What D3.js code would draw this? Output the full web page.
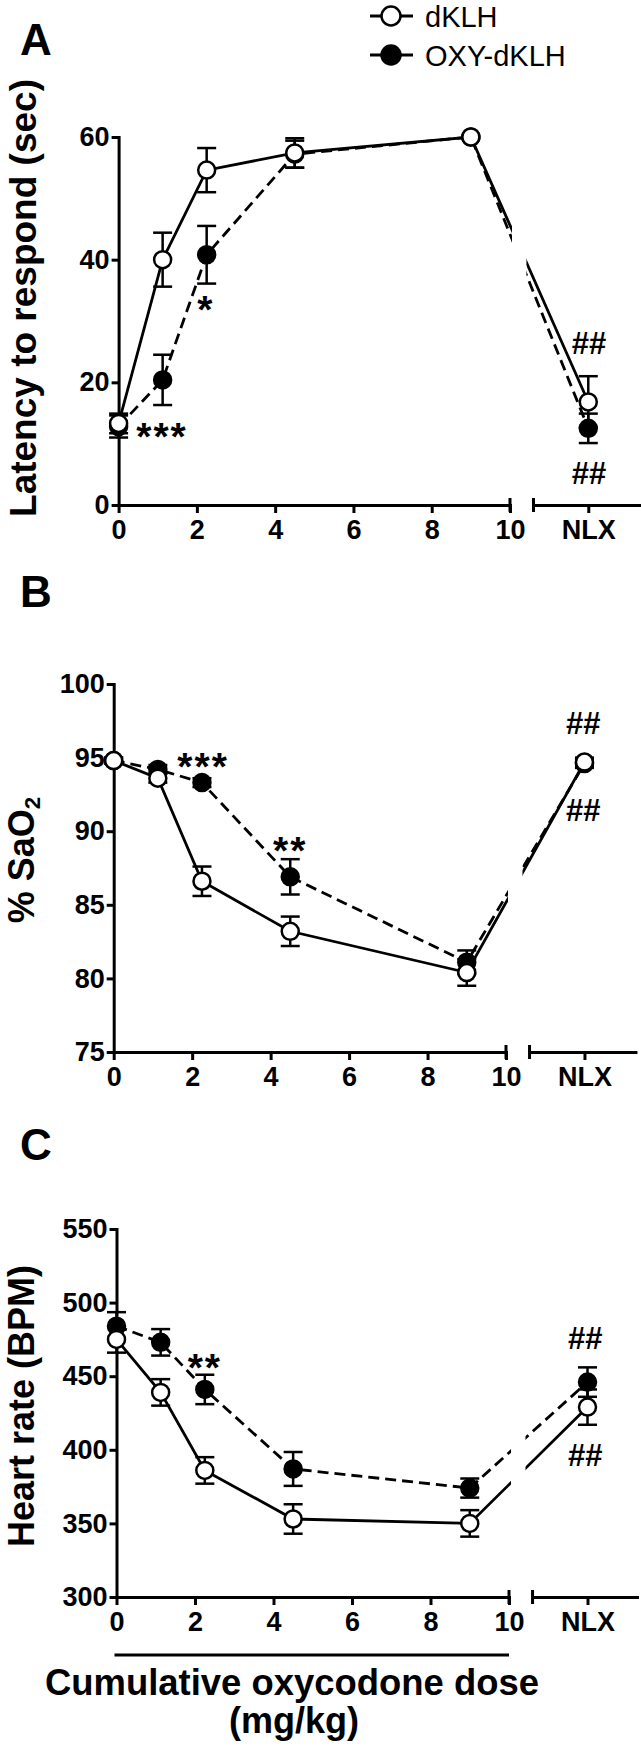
<!DOCTYPE html>
<html><head><meta charset="utf-8">
<script src="https://cdn.jsdelivr.net/npm/d3@7"></script>
<style>
body{margin:0;background:#fff}
svg{display:block}
text{font-family:"Liberation Sans",Arial,Helvetica,sans-serif;fill:#000}
</style>
</head><body><svg id="chart" width="641" height="1748"></svg>
<script>
// ---------- data ----------
const doses = [0, 1.125, 2.25, 4.5, 9];
const nlxPos = 12;                 // NLX category position on the dose axis
const nlxLabel = "NLX";
const xTickValues = [0, 2, 4, 6, 8, 10];
const seriesNames = ["dKLH", "OXY-dKLH"];

const latencyTicks = [0, 20, 40, 60];
const latencyDKLH    = [13.3, 40.0, 54.6, 57.4, 60.0, 16.8];
const latencyDKLHErr = [1.6, 4.4, 3.6, 2.4, 0.0, 4.2];
const latencyOXY     = [12.8, 20.4, 40.8, 57.2, 60.0, 12.5];
const latencyOXYErr  = [1.8, 4.1, 4.7, 2.2, 0.3, 2.4];

const sao2Ticks = [75, 80, 85, 90, 95, 100];
const sao2DKLH    = [94.8, 93.6, 86.6, 83.2, 80.4, 94.7];
const sao2DKLHErr = [0.2, 0.3, 1.0, 1.0, 0.9, 0.3];
const sao2OXY     = [94.8, 94.2, 93.3, 86.9, 81.1, 94.6];
const sao2OXYErr  = [0.2, 0.3, 0.3, 1.2, 0.8, 0.3];

const hrTicks = [300, 350, 400, 450, 500, 550];
const hrDKLH    = [475, 439, 386, 353, 350, 429];
const hrDKLHErr = [9, 9, 9, 10, 9, 12];
const hrOXY     = [484, 473, 441, 387, 374, 446];
const hrOXYErr  = [9.5, 9, 10, 11.5, 6.5, 10];

// significance marks: [text, dose position, value]
const annotLatency = [["***", 1.11, 12.7], ["*", 2.23, 33.4], ["##", 12.02, 26.4], ["##", 12.02, 5.2]];
const annotSao2    = [["***", 2.28, 95.04], ["**", 4.5, 89.33], ["##", 11.97, 97.35], ["##", 11.97, 91.44]];
const annotHr      = [["**", 2.25, 462.4], ["##", 11.94, 476], ["##", 11.94, 396.5]];

// ---------- drawing ----------
const svg = d3.select("#chart");
svg.append("rect").attr("width", 641).attr("height", 1748).attr("fill", "#fff");
const FONT = '"Liberation Sans",Arial,Helvetica,sans-serif';
const positions = doses.concat([nlxPos]);

function drawPanel(cfg, idx) {
  const x = d3.scaleLinear().domain([0, 10]).range([cfg.x0, cfg.x10]);
  const y = d3.scaleLinear().domain([cfg.ticks[0], cfg.ticks[cfg.ticks.length - 1]]).range([cfg.yBottom, cfg.yTop]);
  const g = svg.append("g");

  // panel letter
  g.append("text").attr("x", 20).attr("y", cfg.letterY).attr("font-size", 44).attr("font-weight", "bold").text(cfg.letter);

  // y label
  const yl = g.append("text")
    .attr("transform", `translate(${cfg.ylabX},${cfg.ylabY}) rotate(-90)`)
    .attr("text-anchor", "middle").attr("font-size", cfg.ylabSize).attr("font-weight", "bold");
  if (cfg.ylabLen) yl.attr("textLength", cfg.ylabLen).attr("lengthAdjust", "spacingAndGlyphs");
  cfg.ylab.forEach(p => {
    const t = yl.append("tspan").text(p.t);
    if (p.sub) t.attr("font-size", cfg.ylabSize * 0.62).attr("dy", 6);
  });

  // clip for lines (axis-break gap)
  const clipId = "clip" + idx;
  const cp = svg.append("clipPath").attr("id", clipId);
  cp.append("rect").attr("x", 0).attr("y", 0).attr("width", x(10) + 2).attr("height", 1748);
  cp.append("rect").attr("x", x(10.42)).attr("y", 0).attr("width", 641).attr("height", 1748);

  // axes
  const yAxis = d3.axisLeft(y).tickValues(cfg.ticks).tickSize(7).tickSizeOuter(0).tickPadding(2).tickFormat(d3.format("d"));
  const xAxis = d3.axisBottom(x).tickValues(xTickValues).tickSize(8).tickSizeOuter(0).tickPadding(7).tickFormat(d3.format("d"));
  const xr = x.copy().domain([10.6, cfg.xEnd]).range([x(10.6), x(cfg.xEnd)]);
  const xrAxis = d3.axisBottom(xr).tickValues([nlxPos]).tickSize(8).tickSizeOuter(0).tickPadding(7).tickFormat(() => nlxLabel);

  const styleAxis = sel => {
    sel.attr("font-family", FONT).attr("font-size", 27).attr("font-weight", "bold");
    sel.selectAll("path.domain").attr("stroke", "#000").attr("stroke-width", 3).attr("stroke-linecap", "square");
    sel.selectAll(".tick line").attr("stroke", "#000").attr("stroke-width", 3);
    sel.selectAll(".tick text").attr("fill", "#000");
  };
  g.append("g").attr("transform", `translate(${cfg.x0},0)`).call(yAxis).call(styleAxis);
  g.append("g").attr("transform", `translate(0,${cfg.yBottom})`).call(xAxis).call(styleAxis);
  g.append("g").attr("transform", `translate(0,${cfg.yBottom})`).call(xrAxis).call(styleAxis);
  // break caps
  [10, 10.6].forEach(v => {
    g.append("line").attr("x1", x(v)).attr("x2", x(v)).attr("y1", cfg.yBottom - 7).attr("y2", cfg.yBottom + 7)
      .attr("stroke", "#000").attr("stroke-width", 3);
  });

  // series
  const series = [
    {vals: cfg.ox, err: cfg.oxErr, filled: true, dash: "11,6"},
    {vals: cfg.dk, err: cfg.dkErr, filled: false, dash: null}
  ];
  const line = d3.line().x(d => x(d[0])).y(d => y(d[1]));
  series.forEach(s => {
    const pts = positions.map((p, i) => [p, s.vals[i], s.err[i]]);
    g.append("path").attr("d", line(pts)).attr("fill", "none").attr("stroke", "#000").attr("stroke-width", 2.8)
      .attr("stroke-dasharray", s.dash).attr("clip-path", `url(#${clipId})`);
    pts.forEach(d => {
      if (d[2] > 0) {
        const y1 = y(d[1] - d[2]), y2 = y(d[1] + d[2]);
        g.append("line").attr("x1", x(d[0])).attr("x2", x(d[0])).attr("y1", y1).attr("y2", y2).attr("stroke", "#000").attr("stroke-width", 2.5);
        [y1, y2].forEach(yy => g.append("line").attr("x1", x(d[0]) - 9.5).attr("x2", x(d[0]) + 9.5).attr("y1", yy).attr("y2", yy).attr("stroke", "#000").attr("stroke-width", 2.5));
      }
    });
    pts.forEach(d => {
      g.append("circle").attr("cx", x(d[0])).attr("cy", y(d[1])).attr("r", 8.5)
        .attr("fill", s.filled ? "#000" : "#fff").attr("stroke", "#000").attr("stroke-width", 2.5);
    });
  });

  // annotations
  cfg.annots.forEach(a => {
    const star = a[0].startsWith("*");
    const fs = star ? 39 : 31;
    g.append("text").attr("x", x(a[1])).attr("y", y(a[2]) + (star ? 0.58 : 0.36) * fs)
      .attr("text-anchor", "middle").attr("font-size", fs).attr("font-weight", "bold")
      .attr("letter-spacing", star ? 2 : 0).text(a[0]);
  });
}

const panels = [
  {letter: "A", letterY: 55, x0: 118.6, x10: 510, xEnd: 13.35, yTop: 137, yBottom: 505, ticks: latencyTicks,
   dk: latencyDKLH, dkErr: latencyDKLHErr, ox: latencyOXY, oxErr: latencyOXYErr, annots: annotLatency,
   ylab: [{t: "Latency to respond (sec)"}], ylabX: 36, ylabY: 298, ylabSize: 37},
  {letter: "B", letterY: 607, x0: 113.7, x10: 506, xEnd: 13.3, yTop: 684, yBottom: 1052, ticks: sao2Ticks,
   dk: sao2DKLH, dkErr: sao2DKLHErr, ox: sao2OXY, oxErr: sao2OXYErr, annots: annotSao2,
   ylab: [{t: "% SaO"}, {t: "2", sub: true}], ylabX: 34, ylabY: 860, ylabSize: 36},
  {letter: "C", letterY: 1160, x0: 116.5, x10: 509, xEnd: 13.26, yTop: 1229, yBottom: 1597, ticks: hrTicks,
   dk: hrDKLH, dkErr: hrDKLHErr, ox: hrOXY, oxErr: hrOXYErr, annots: annotHr,
   ylab: [{t: "Heart rate (BPM)"}], ylabX: 34, ylabY: 1406, ylabSize: 36, ylabLen: 282}
];
panels.forEach(drawPanel);

// legend
const legend = svg.append("g");
seriesNames.forEach((name, i) => {
  const cy = [16, 55][i];
  legend.append("line").attr("x1", 370).attr("x2", 413).attr("y1", cy).attr("y2", cy).attr("stroke", "#000").attr("stroke-width", 3);
  legend.append("circle").attr("cx", 391).attr("cy", cy).attr("r", 9.5)
    .attr("fill", i === 0 ? "#fff" : "#000").attr("stroke", "#000").attr("stroke-width", 2.5);
  legend.append("text").attr("x", 425).attr("y", cy + 10.5).attr("font-size", 29).text(name);
});

// bottom x title
const xC = panels[2];
const xs = d3.scaleLinear().domain([0, 10]).range([xC.x0, xC.x10]);
svg.append("line").attr("x1", xs(0) - 2).attr("x2", xs(10)).attr("y1", 1655).attr("y2", 1655).attr("stroke", "#000").attr("stroke-width", 3);
svg.append("text").attr("x", 292).attr("y", 1695).attr("text-anchor", "middle").attr("font-size", 36).attr("font-weight", "bold")
  .attr("textLength", 494).attr("lengthAdjust", "spacingAndGlyphs").text("Cumulative oxycodone dose");
svg.append("text").attr("x", 294).attr("y", 1733).attr("text-anchor", "middle").attr("font-size", 36).attr("font-weight", "bold").text("(mg/kg)");
</script>
</body></html>
